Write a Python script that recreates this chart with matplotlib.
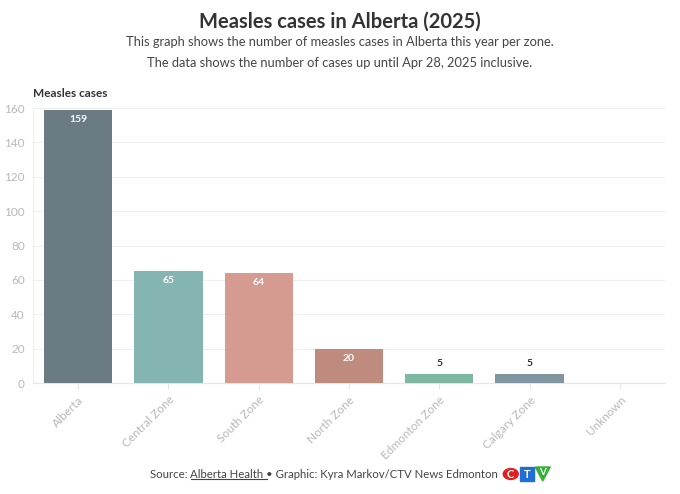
import matplotlib
matplotlib.use('Agg')
import matplotlib.pyplot as plt
from matplotlib.patches import Polygon, Circle, Rectangle
from matplotlib.lines import Line2D

# Datos del gráfico
zones = ['Alberta', 'Central Zone', 'South Zone', 'North Zone', 'Edmonton Zone', 'Calgary Zone', 'Unknown']
cases = [159, 65, 64, 20, 5, 5, 0]
bar_colors = ['#6b7b84', '#84b5b2', '#d59a90', '#bf8b7e', '#7fb8a2', '#7f96a0', '#cccccc']
y_ticks = [0, 20, 40, 60, 80, 100, 120, 140, 160]

plt.rcParams['font.family'] = ['Lato', 'DejaVu Sans']

fig = plt.figure(figsize=(6.8, 4.94), dpi=100)
W, H = 680, 494
ax = fig.add_axes([33 / W, 1 - 383 / H, (665 - 33) / W, (383 - 108) / H])

bars = ax.bar(range(len(zones)), cases, width=0.755, color=bar_colors, zorder=3)

# Etiquetas de valores
for i, v in enumerate(cases):
    if v == 0:
        continue
    if v >= 15:
        ax.text(i, v - 3, str(v), ha='center', va='top', fontsize=7.5, fontweight='bold',
                color='white', zorder=4)
    else:
        ax.text(i, v + 4, str(v), ha='center', va='bottom', fontsize=7.5, fontweight='bold',
                color='#333333', zorder=4)

ax.set_xlim(-0.5, 6.5)
ax.set_ylim(0, 160)
ax.set_yticks(y_ticks)
ax.set_xticks(range(len(zones)))
ax.set_xticklabels(zones, rotation=45, ha='right', rotation_mode='anchor',
                   fontsize=8.5, color='#b8b8b8')
ax.tick_params(axis='y', length=0, labelsize=8.5, labelcolor='#b8b8b8', pad=6)
ax.tick_params(axis='x', length=4, color='#e6e6e6', pad=4)
ax.grid(axis='y', color='#eeeeee', linewidth=0.8, zorder=0)
for s in ['top', 'right']:
    ax.spines[s].set_visible(False)
ax.spines['left'].set_color('#eeeeee')
ax.spines['bottom'].set_color('#e6e6e6')

# Títulos
fig.text(340 / W, 1 - 22 / H, 'Measles cases in Alberta (2025)', ha='center', va='center',
         fontsize=14.5, fontweight='bold', color='#333333')
fig.text(340 / W, 1 - 42 / H, 'This graph shows the number of measles cases in Alberta this year per zone.',
         ha='center', va='center', fontsize=9.3, color='#444444')
fig.text(340 / W, 1 - 63 / H, 'The data shows the number of cases up until Apr 28, 2025 inclusive.',
         ha='center', va='center', fontsize=9.3, color='#444444')
fig.text(33 / W, 1 - 93 / H, 'Measles cases', ha='left', va='center', fontsize=8.5,
         fontweight='bold', color='#333333')

# Fuente con subrayado
renderer = fig.canvas.get_renderer()
y_src = 1 - 474 / H
parts = ['Source: ', 'Alberta Health ', '• Graphic: Kyra Markov/CTV News Edmonton']
x = 150 / W
for k, p in enumerate(parts):
    t = fig.text(x, y_src, p, ha='left', va='center', fontsize=8.2, color='#444444')
    bb = t.get_window_extent(renderer).transformed(fig.transFigure.inverted())
    if k == 1:
        fig.lines.append(Line2D([bb.x0, bb.x1], [bb.y0 + 0.002, bb.y0 + 0.002],
                                transform=fig.transFigure, color='#444444', linewidth=0.8))
    x = bb.x1

# Logo CTV
px = x * W + 5
cy = 474
fig.patches.append(Circle(((px + 7.5) / W, 1 - cy / H), 7.5 / W, transform=fig.transFigure,
                          color='#e02020'))
fig.text((px + 7.5) / W, 1 - cy / H, 'C', ha='center', va='center', fontsize=8,
         fontweight='bold', color='white')
fig.patches.append(Rectangle(((px + 17) / W, 1 - (cy + 7) / H), 14 / W, 14 / H,
                             transform=fig.transFigure, color='#1f6fd6'))
fig.text((px + 24) / W, 1 - cy / H, 'T', ha='center', va='center', fontsize=8,
         fontweight='bold', color='white')
fig.patches.append(Polygon([((px + 32) / W, 1 - (cy - 7) / H), ((px + 47) / W, 1 - (cy - 7) / H),
                            ((px + 39.5) / W, 1 - (cy + 7) / H)], closed=True,
                           transform=fig.transFigure, color='#35b035'))
fig.text((px + 39.5) / W, 1 - (cy - 2) / H, 'V', ha='center', va='center', fontsize=7,
         fontweight='bold', color='white')

fig.savefig('out.png', dpi=100)
